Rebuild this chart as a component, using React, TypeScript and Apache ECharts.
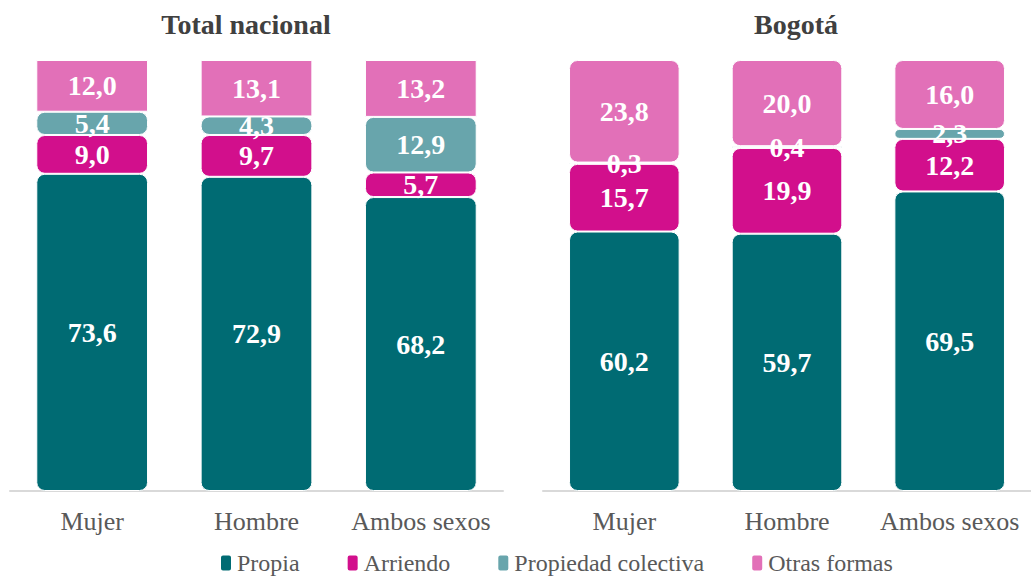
import React, { useEffect, useRef } from "react";
import * as echarts from "echarts";

const categories = ["Mujer", "Hombre", "Ambos sexos"];
const seriesNames = ["Propia", "Arriendo", "Propiedad colectiva", "Otras formas"];
const colors = ["#006B73", "#D20F8C", "#68A5AC", "#E270B8"];
const nacionalPropia = [73.6, 72.9, 68.2];
const nacionalArriendo = [9.0, 9.7, 5.7];
const nacionalColectiva = [5.4, 4.3, 12.9];
const nacionalOtras = [12.0, 13.1, 13.2];
const bogotaPropia = [60.2, 59.7, 69.5];
const bogotaArriendo = [15.7, 19.9, 12.2];
const bogotaColectiva = [0.3, 0.4, 2.3];
const bogotaOtras = [23.8, 20.0, 16.0];
const titles = ["Total nacional", "Bogotá"];

const FONT = "Liberation Serif";

export default function App() {
  const ref = useRef<HTMLDivElement>(null);
  useEffect(() => {
    if (!ref.current) return;
    const chart = echarts.init(ref.current, null, { renderer: "svg" });
    const groups = [
      [nacionalPropia, nacionalArriendo, nacionalColectiva, nacionalOtras],
      [bogotaPropia, bogotaArriendo, bogotaColectiva, bogotaOtras],
    ];
    const series: any[] = [];
    groups.forEach((g, gi) => {
      g.forEach((vals, si) => {
        const squareTop = gi === 0 && si === 3;
        series.push({
          name: seriesNames[si],
          type: "bar",
          stack: "s" + gi,
          xAxisIndex: gi,
          yAxisIndex: gi,
          barWidth: "68%",
          data: vals,
          itemStyle: {
            color: colors[si],
            borderRadius: squareTop ? 0 : 8,
            borderColor: "#ffffff",
            borderWidth: 1,
          },
          label: {
            show: true,
            position: "inside",
            color: "#ffffff",
            fontFamily: FONT,
            fontWeight: "bold",
            fontSize: 28,
            formatter: (p: any) => p.value.toFixed(1).replace(".", ","),
          },
        });
      });
    });
    chart.setOption({
      animation: false,
      textStyle: { fontFamily: FONT },
      title: titles.map((t, i) => ({
        text: t,
        left: i === 0 ? 241 : 791,
        textAlign: "center",
        top: 5,
        textStyle: { fontFamily: FONT, fontWeight: "bold", fontSize: 28, color: "#404040" },
      })),
      legend: {
        data: seriesNames,
        left: 214,
        top: 546,
        itemWidth: 12,
        itemHeight: 17,
        itemGap: 46,
        icon: "roundRect",
        textStyle: { fontFamily: FONT, fontSize: 24, color: "#595959", lineHeight: 22 },
      },
      grid: [
        { left: 10, width: 493, top: 60, height: 431 },
        { left: 543, width: 495, top: 60, height: 431 },
      ],
      xAxis: [0, 1].map((i) => ({
        type: "category",
        gridIndex: i,
        data: categories,
        axisLine: { lineStyle: { color: "#d9d9d9", width: 2 } },
        axisTick: { show: false },
        axisLabel: { interval: 0, fontFamily: FONT, fontSize: 26, color: "#595959", margin: 17 },
      })),
      yAxis: [0, 1].map((i) => ({
        type: "value",
        gridIndex: i,
        min: 0,
        max: 100,
        show: false,
        splitLine: { show: false },
      })),
      series,
    });
    return () => chart.dispose();
  }, []);
  return <div ref={ref} style={{ width: 1031, height: 576, position: "absolute", left: 0, top: 0 }} />;
}
